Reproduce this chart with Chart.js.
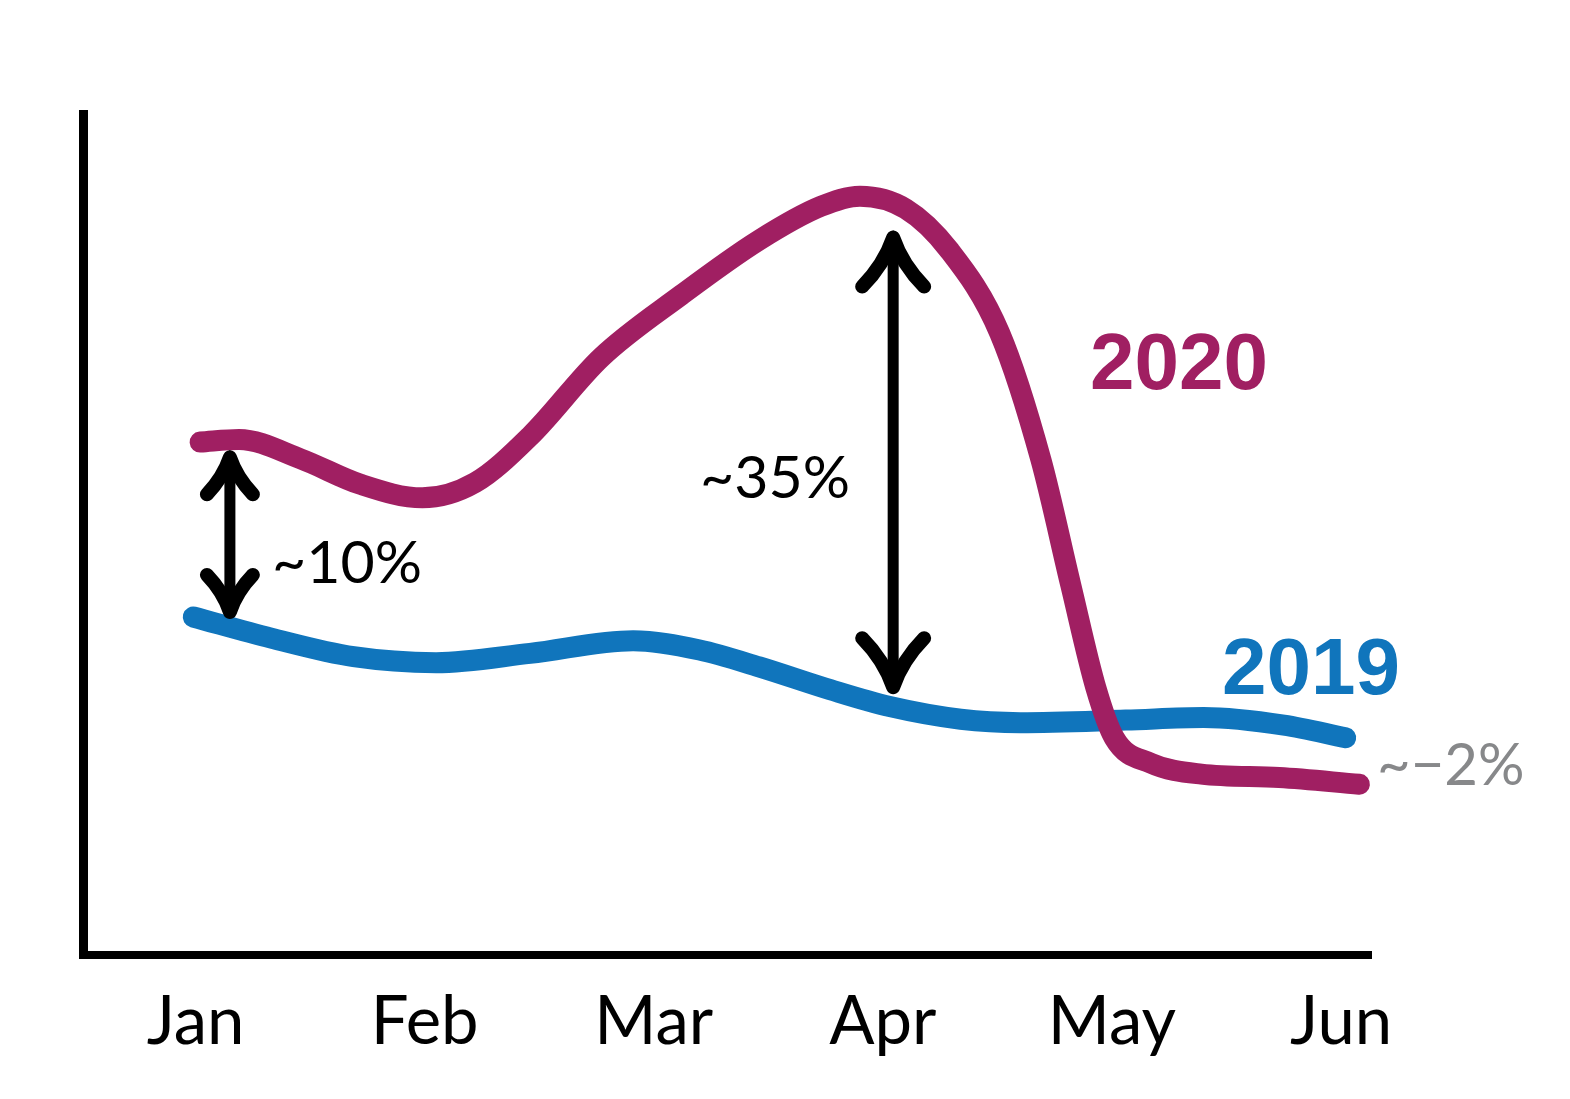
<!DOCTYPE html>
<html><head><meta charset="utf-8">
<script src="https://cdn.jsdelivr.net/npm/chart.js@4.4.0/dist/chart.umd.min.js"></script>
<style>html,body{margin:0;padding:0;background:#fff}#wrap{width:1570px;height:1099px;position:relative}</style>
</head><body><div id="wrap"><canvas id="c"></canvas></div>
<script>
// ---- data (x in month units: 0 = Jan ... 5 = Jun; y in relative index units) ----
const months = ['Jan','Feb','Mar','Apr','May','Jun'];
const seriesNames = ['2020','2019'];
const x2020 = [0.02,0.19,0.46,0.72,0.99,1.22,1.46,1.77,2.12,2.46,2.73,2.90,3.10,3.29,3.51,3.69,3.82,3.93,4.01,4.17,4.39,4.73,5.08];
const y2020 = [60.7,61.0,58.7,55.7,54.1,55.9,61.4,70.7,78.1,84.6,88.6,89.8,88.3,83.4,73.6,58.6,43.8,31.6,25.7,22.7,21.4,21.0,20.2];
const x2019 = [-0.01,0.33,0.69,1.05,1.46,1.91,2.20,2.46,2.77,3.03,3.34,3.60,4.06,4.40,4.75,5.02];
const y2019 = [40.0,37.5,35.3,34.6,35.7,37.2,36.1,34.1,31.4,29.4,27.9,27.5,27.8,28.1,27.2,25.7];
// gap annotations
const gapLabels = ['~10%','~35%'];
const gapX = [0.15,3.045];
const gapTop = [58.9,84.9];
const gapBottom = [40.6,31.7];
const endNote = '~\u22122%';

const PURPLE = '#A01F62', BLUE = '#1075BC', GRAY = '#87888A';
const toPts = (xs, ys) => xs.map((x,i)=>({x, y: ys[i]}));

function arrowHead(ctx, tx, ty, w, h, dir){
  ctx.beginPath();
  for (const s of [-1,1]){
    ctx.moveTo(tx, ty);
    ctx.quadraticCurveTo(tx + s*0.3*w, ty + dir*0.55*h, tx + s*w, ty + dir*h);
  }
  ctx.stroke();
}

const decor = {
  id:'decor',
  beforeDatasetsDraw(chart){
    const {ctx, chartArea:a} = chart;
    ctx.save();
    ctx.fillStyle = '#000';
    ctx.fillRect(a.left-4.5, a.top, 9, a.bottom - a.top + 4);
    ctx.fillRect(a.left-4.5, a.bottom-4, a.right - a.left + 4.5, 8);
    ctx.restore();
  },
  afterDatasetsDraw(chart){
    const {ctx} = chart;
    const xs = chart.scales.x, ys = chart.scales.y;
    ctx.save();
    const heads = [[23,37],[31,49]];
    gapX.forEach((gx,i)=>{
      const px = xs.getPixelForValue(gx);
      const pt = ys.getPixelForValue(gapTop[i]);
      const pb = ys.getPixelForValue(gapBottom[i]);
      ctx.strokeStyle = '#000';
      ctx.lineCap = 'round'; ctx.lineJoin = 'round';
      ctx.lineWidth = 11;
      ctx.beginPath(); ctx.moveTo(px, pt+6); ctx.lineTo(px, pb-6); ctx.stroke();
      ctx.lineWidth = 14;
      arrowHead(ctx, px, pt, heads[i][0], heads[i][1], 1);
      arrowHead(ctx, px, pb, heads[i][0], heads[i][1], -1);
    });
    ctx.textBaseline = 'middle';
    ctx.textAlign = 'left';
    ctx.fillStyle = '#000';
    ctx.font = '59px Lato, "Noto Sans", sans-serif';
    ctx.fillText(gapLabels[0], xs.getPixelForValue(0.334), ys.getPixelForValue(46.3));
    ctx.fillText(gapLabels[1], xs.getPixelForValue(2.202), ys.getPixelForValue(56.3));
    ctx.fillStyle = GRAY;
    ctx.font = '58px Lato, "Noto Sans", sans-serif';
    ctx.fillText(endNote, xs.getPixelForValue(5.157), ys.getPixelForValue(22.3));
    ctx.font = 'bold 80px "Liberation Sans", Arial, sans-serif';
    ctx.fillStyle = PURPLE;
    ctx.fillText(seriesNames[0], xs.getPixelForValue(3.904), ys.getPixelForValue(69.6));
    ctx.fillStyle = BLUE;
    ctx.fillText(seriesNames[1], xs.getPixelForValue(4.48), ys.getPixelForValue(33.5));
    ctx.restore();
  }
};

new Chart(document.getElementById('c'), {
  type: 'line',
  data: {
    datasets: [
      {label: seriesNames[0], data: toPts(x2020, y2020), borderColor: PURPLE, borderWidth: 21},
      {label: seriesNames[1], data: toPts(x2019, y2019), borderColor: BLUE, borderWidth: 21}
    ]
  },
  options: {
    responsive: true, maintainAspectRatio: false, animation: false,
    layout: {padding: {left: 83.5, right: 198, top: 110, bottom: 0}},
    datasets: {line: {pointRadius: 0, cubicInterpolationMode: 'monotone', borderCapStyle: 'round', borderJoinStyle: 'round', clip: false, fill: false}},
    plugins: {legend: {display: false}, tooltip: {enabled: false}},
    scales: {
      x: {
        type: 'linear', min: -0.489, max: 5.135,
        grid: {display: false, drawTicks: false}, border: {display: false},
        afterBuildTicks: s => { s.ticks = months.map((m,i)=>({value:i})); },
        afterFit: s => { s.height = 144; },
        ticks: {autoSkip: false, maxRotation: 0, padding: 27, color: '#000',
          font: {family: 'Lato, "Noto Sans", sans-serif', size: 67},
          callback: v => months[v] ?? ''}
      },
      y: {display: false, min: 0, max: 100}
    }
  },
  plugins: [decor]
});
</script></body></html>
